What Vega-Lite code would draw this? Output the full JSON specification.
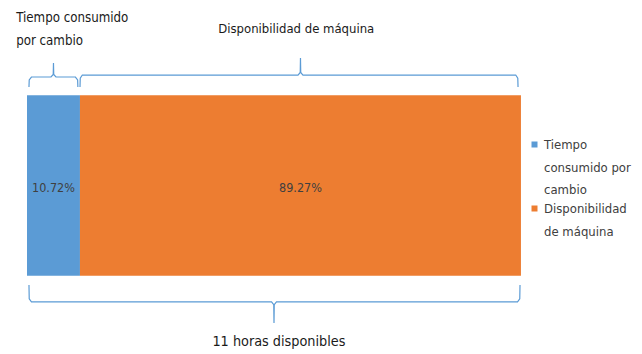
{
  "$schema": "https://vega.github.io/schema/vega-lite/v6.json",
  "width": 494,
  "height": 361,
  "autosize": {"type": "none"},
  "padding": {"left": 27, "top": 5, "right": 121, "bottom": 0},
  "background": "white",
  "config": {
    "view": {"stroke": null},
    "font": "'DejaVu Sans Condensed', Roboto, sans-serif",
    "axis": {"disable": true}
  },
  "datasets": {
    "partes": [
      {"serie": "Tiempo consumido por cambio", "porcentaje": 10.72},
      {"serie": "Disponibilidad de máquina", "porcentaje": 89.27}
    ],
    "llaves": [
      {"llave": "cambio", "orden": 1, "pos": 0.4, "nivel": 1.046},
      {"llave": "cambio", "orden": 2, "pos": 0.45, "nivel": 1.085},
      {"llave": "cambio", "orden": 3, "pos": 0.9, "nivel": 1.101},
      {"llave": "cambio", "orden": 4, "pos": 4.86, "nivel": 1.101},
      {"llave": "cambio", "orden": 5, "pos": 5.31, "nivel": 1.115},
      {"llave": "cambio", "orden": 6, "pos": 5.36, "nivel": 1.179},
      {"llave": "cambio", "orden": 7, "pos": 5.41, "nivel": 1.115},
      {"llave": "cambio", "orden": 8, "pos": 5.86, "nivel": 1.101},
      {"llave": "cambio", "orden": 9, "pos": 9.8, "nivel": 1.101},
      {"llave": "cambio", "orden": 10, "pos": 10.25, "nivel": 1.085},
      {"llave": "cambio", "orden": 11, "pos": 10.3, "nivel": 1.046},
      {"llave": "maquina", "orden": 1, "pos": 10.73, "nivel": 1.046},
      {"llave": "maquina", "orden": 2, "pos": 10.78, "nivel": 1.095},
      {"llave": "maquina", "orden": 3, "pos": 11.2, "nivel": 1.112},
      {"llave": "maquina", "orden": 4, "pos": 54.86, "nivel": 1.112},
      {"llave": "maquina", "orden": 5, "pos": 55.31, "nivel": 1.126},
      {"llave": "maquina", "orden": 6, "pos": 55.36, "nivel": 1.206},
      {"llave": "maquina", "orden": 7, "pos": 55.41, "nivel": 1.126},
      {"llave": "maquina", "orden": 8, "pos": 55.86, "nivel": 1.112},
      {"llave": "maquina", "orden": 9, "pos": 98.93, "nivel": 1.112},
      {"llave": "maquina", "orden": 10, "pos": 99.35, "nivel": 1.095},
      {"llave": "maquina", "orden": 11, "pos": 99.4, "nivel": 1.046},
      {"llave": "total", "orden": 1, "pos": 0.4, "nivel": -0.051},
      {"llave": "total", "orden": 2, "pos": 0.45, "nivel": -0.128},
      {"llave": "total", "orden": 3, "pos": 0.9, "nivel": -0.145},
      {"llave": "total", "orden": 4, "pos": 49.5, "nivel": -0.145},
      {"llave": "total", "orden": 5, "pos": 49.95, "nivel": -0.16},
      {"llave": "total", "orden": 6, "pos": 50.0, "nivel": -0.262},
      {"llave": "total", "orden": 7, "pos": 50.05, "nivel": -0.16},
      {"llave": "total", "orden": 8, "pos": 50.5, "nivel": -0.145},
      {"llave": "total", "orden": 9, "pos": 99.3, "nivel": -0.145},
      {"llave": "total", "orden": 10, "pos": 99.75, "nivel": -0.128},
      {"llave": "total", "orden": 11, "pos": 99.8, "nivel": -0.051}
    ],
    "rotulos": [
      {"texto": "Tiempo consumido\npor cambio", "pos": -2.2, "nivel": 1.406, "tamano": 13.2, "alineacion": "izquierda"},
      {"texto": "Disponibilidad de máquina", "pos": 54.5, "nivel": 1.345, "tamano": 13, "alineacion": "centro"},
      {"texto": "11 horas disponibles", "pos": 51, "nivel": -0.389, "tamano": 14.3, "alineacion": "centro"}
    ]
  },
  "layer": [
    {
      "data": {"name": "partes"},
      "transform": [
        {"stack": "porcentaje", "groupby": [], "as": ["inicio", "fin"]},
        {"calculate": "(datum.inicio + datum.fin) / 2", "as": "medio"},
        {"calculate": "format(datum.porcentaje, '.2f') + '%'", "as": "etiqueta"}
      ],
      "layer": [
        {
          "mark": {"type": "bar"},
          "encoding": {
            "x": {"field": "inicio", "type": "quantitative", "scale": {"domain": [0, 100], "nice": false, "zero": false}},
            "x2": {"field": "fin"},
            "y": {"datum": 0, "type": "quantitative", "scale": {"domain": [-0.5, 1.5], "nice": false, "zero": false}},
            "y2": {"datum": 1},
            "color": {
              "field": "serie",
              "type": "nominal",
              "scale": {
                "domain": ["Tiempo consumido por cambio", "Disponibilidad de máquina"],
                "range": ["#5B9BD5", "#ED7D31"]
              },
              "legend": {
                "title": null,
                "orient": "none",
                "legendX": 501,
                "legendY": 133,
                "symbolType": "square",
                "symbolSize": 36,
                "symbolStrokeWidth": 0,
                "labelFontSize": 13,
                "labelColor": "#404040",
                "labelLimit": 200,
                "labelOffset": 3,
                "labelBaseline": "alphabetic",
                "rowPadding": 5,
                "labelExpr": "datum.label == 'Tiempo consumido por cambio' ? ['Tiempo', 'consumido por', 'cambio'] : ['Disponibilidad', 'de máquina']",
                "encode": {"labels": {"update": {"dy": {"value": 4.5}, "lineHeight": {"value": 22.5}}}}
              }
            }
          }
        },
        {
          "mark": {"type": "text", "fontSize": 12.5, "color": "#404040", "baseline": "middle", "dy": 2},
          "encoding": {
            "x": {"field": "medio", "type": "quantitative", "scale": {"domain": [0, 100], "nice": false, "zero": false}},
            "y": {"datum": 0.5, "type": "quantitative", "scale": {"domain": [-0.5, 1.5], "nice": false, "zero": false}},
            "text": {"field": "etiqueta"}
          }
        }
      ]
    },
    {
      "data": {"name": "llaves"},
      "mark": {"type": "line", "color": "#5B9BD5", "strokeWidth": 1.2, "clip": false},
      "encoding": {
        "x": {"field": "pos", "type": "quantitative", "scale": {"domain": [0, 100], "nice": false, "zero": false}},
        "y": {"field": "nivel", "type": "quantitative", "scale": {"domain": [-0.5, 1.5], "nice": false, "zero": false}},
        "detail": {"field": "llave"},
        "order": {"field": "orden"}
      }
    },
    {
      "data": {"name": "rotulos"},
      "transform": [{"filter": "datum.alineacion == 'izquierda'"}],
      "mark": {"type": "text", "align": "left", "baseline": "alphabetic", "lineHeight": 23, "lineBreak": "\n", "color": "#1a1a1a"},
      "encoding": {
        "x": {"field": "pos", "type": "quantitative", "scale": {"domain": [0, 100], "nice": false, "zero": false}},
        "y": {"field": "nivel", "type": "quantitative", "scale": {"domain": [-0.5, 1.5], "nice": false, "zero": false}},
        "size": {"field": "tamano", "type": "quantitative", "scale": null},
        "text": {"field": "texto"}
      }
    },
    {
      "data": {"name": "rotulos"},
      "transform": [{"filter": "datum.alineacion == 'centro'"}],
      "mark": {"type": "text", "align": "center", "baseline": "alphabetic", "color": "#1a1a1a"},
      "encoding": {
        "x": {"field": "pos", "type": "quantitative", "scale": {"domain": [0, 100], "nice": false, "zero": false}},
        "y": {"field": "nivel", "type": "quantitative", "scale": {"domain": [-0.5, 1.5], "nice": false, "zero": false}},
        "size": {"field": "tamano", "type": "quantitative", "scale": null},
        "text": {"field": "texto"}
      }
    }
  ]
}
